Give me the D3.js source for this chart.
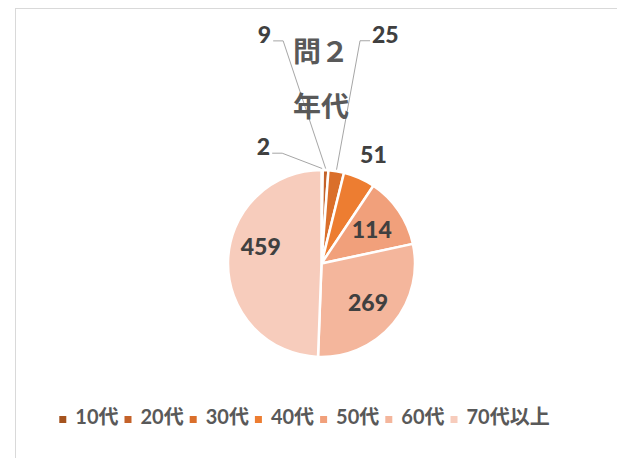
<!DOCTYPE html>
<html>
<head>
<meta charset="utf-8">
<script src="https://cdn.jsdelivr.net/npm/d3@7"></script>
<style>
html,body{margin:0;padding:0;background:#fff;}
svg{display:block;}
</style>
</head>
<body>
<svg id="chart" width="617" height="458"></svg>
<script>
// ---- data ----
const categories = ["10代", "20代", "30代", "40代", "50代", "60代", "70代以上"];
const values = [2, 9, 25, 51, 114, 269, 459];
const colors = ["#A5531E", "#C4622A", "#DA6F2B", "#ED7D31", "#F1A07B", "#F4B69C", "#F7CCBC"];
const titleLines = ["問２", "年代"];
// label placement for the small slices (angle in degrees from top, radius as multiple of pie radius)
const calloutPlacement = [
  {i: 0, angle: -26.5, k: 1.39, side: "left",  leader: true},
  {i: 1, angle: -14.0, k: 2.52, side: "left",  leader: true},
  {i: 2, angle: 15.6,  k: 2.54, side: "right", leader: true},
  {i: 3, angle: 25.5,  k: 1.29, side: "right", leader: false}
];

const W = 617, H = 458;
const cx = 321.5, cy = 263.5, R = 93.5;
const fontLatin = "Lato, 'Noto Sans CJK JP', sans-serif";
const fontCJK = "'Noto Sans CJK JP', 'Noto Sans', sans-serif";

const svg = d3.select("#chart");
svg.append("rect").attr("width", W).attr("height", H).attr("fill", "#fff");
// chart area border
svg.append("rect").attr("x", 15.5).attr("y", 8.5).attr("width", W + 20).attr("height", H + 20)
  .attr("fill", "none").attr("stroke", "#D9D9D9").attr("stroke-width", 1);

const data = categories.map((c, i) => ({cat: c, value: values[i], color: colors[i], i}));
const pie = d3.pie().value(d => d.value).sort(null);
const arcs = pie(data);
const arc = d3.arc().innerRadius(0).outerRadius(R);
const labelArc = d3.arc().innerRadius(R * 0.65).outerRadius(R * 0.65);

const g = svg.append("g").attr("transform", `translate(${cx},${cy})`);
g.selectAll("path.slice").data(arcs).join("path")
  .attr("class", "slice")
  .attr("d", arc)
  .attr("fill", d => d.data.color)
  .attr("stroke", "#fff")
  .attr("stroke-width", 2.5)
  .attr("stroke-linejoin", "round");

// inside labels for the large slices
const smallIdx = new Set(calloutPlacement.map(p => p.i));
g.selectAll("text.inlab").data(arcs.filter(d => !smallIdx.has(d.data.i))).join("text")
  .attr("class", "inlab")
  .attr("x", d => labelArc.centroid(d)[0])
  .attr("y", d => labelArc.centroid(d)[1] - (d.data.i === 6 ? 16 : 0))
  .attr("dy", "0.36em")
  .attr("text-anchor", "middle")
  .attr("font-family", fontLatin)
  .attr("font-weight", 900)
  .attr("font-size", 23)
  .attr("fill", "#404040")
  .text(d => d.data.value);

// callout labels
calloutPlacement.forEach(p => {
  const a = p.angle * Math.PI / 180;
  const lx = Math.sin(a) * R * p.k;
  const ly = -Math.cos(a) * R * p.k;
  const t = g.append("text")
    .attr("x", lx).attr("y", ly).attr("dy", "0.36em")
    .attr("text-anchor", "middle")
    .attr("font-family", fontLatin)
    .attr("font-weight", 900)
    .attr("font-size", 23)
    .attr("fill", "#404040")
    .text(values[p.i]);
  if (p.leader) {
    const bb = t.node().getBBox();
    const d = arcs[p.i];
    const mid = (d.startAngle + d.endAngle) / 2;
    const ex = Math.sin(mid) * (R + 1.5);
    const ey = -Math.cos(mid) * (R + 1.5);
    const yLine = ly + 6;
    const x0 = p.side === "left" ? bb.x + bb.width + 2 : bb.x - 2;
    const x1 = p.side === "left" ? x0 + 10 : x0 - 10;
    g.append("path")
      .attr("d", d3.line()([[x0, yLine], [x1, yLine], [ex, ey]]))
      .attr("fill", "none")
      .attr("stroke", "#A6A6A6")
      .attr("stroke-width", 1);
  }
});

// title (two lines)
svg.append("g").selectAll("text").data(titleLines).join("text")
  .attr("x", 321)
  .attr("y", (d, i) => 62 + i * 55)
  .attr("text-anchor", "middle")
  .attr("font-family", fontCJK)
  .attr("font-weight", "bold")
  .attr("font-size", 28)
  .attr("fill", "#595959")
  .text(d => d);

// legend
const legend = svg.append("g");
const items = legend.selectAll("g").data(data).join("g");
items.append("rect").attr("width", 7).attr("height", 7).attr("fill", d => d.color);
items.append("text")
  .attr("x", 16).attr("y", 8)
  .attr("font-family", fontLatin)
  .attr("font-weight", "bold")
  .attr("font-size", 20)
  .attr("fill", "#595959")
  .text(d => d.cat);
let offs = 0;
const positions = [];
items.each(function() {
  const w = d3.select(this).select("text").node().getComputedTextLength();
  positions.push(offs);
  offs += 16 + w + 6;
});
const totalW = offs - 6;
const startX = 304.5 - totalW / 2;
items.attr("transform", (d, i) => `translate(${startX + positions[i]},416)`);
</script>
</body>
</html>
